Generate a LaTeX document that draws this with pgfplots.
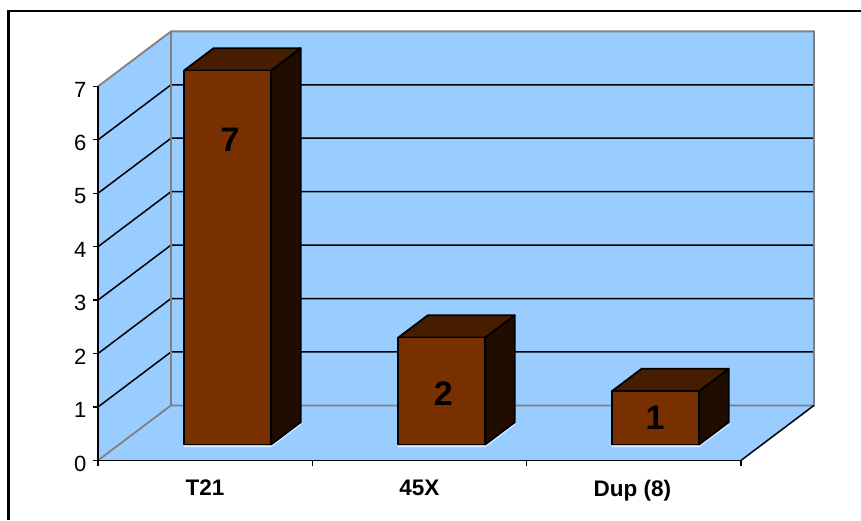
\documentclass[border=0pt]{standalone}
\usepackage{pgfplots}
\pgfplotsset{compat=1.18}
\usepackage{fontspec}
\setmainfont{Liberation Sans}
\definecolor{wall}{HTML}{99CCFF}
\definecolor{barfront}{HTML}{783000}
\definecolor{bartop}{HTML}{471D00}
\definecolor{barside}{HTML}{210D00}
\definecolor{edge}{HTML}{808080}

% One box of the column chart: x from #1 to #2, height #3
\newcommand{\barbox}[3]{%
  \addplot3[white!75!wall, line width=1pt] coordinates
    {(#1,0.29,-0.04) (#2,0.29,-0.04) (#2,0.695,-0.04)};
  \addplot3[draw=black, line width=1.8pt, fill=barside, line join=round] coordinates
    {(#2,0.29,0) (#2,0.695,0) (#2,0.695,#3) (#2,0.29,#3)} --cycle;
  \addplot3[draw=black, line width=1.8pt, fill=bartop, line join=round] coordinates
    {(#1,0.29,#3) (#2,0.29,#3) (#2,0.695,#3) (#1,0.695,#3)} --cycle;
  \addplot3[draw=black, line width=1.8pt, fill=barfront, line join=round] coordinates
    {(#1,0.29,0) (#2,0.29,0) (#2,0.29,#3) (#1,0.29,#3)} --cycle;
}

\begin{document}
\begin{tikzpicture}[x=1pt,y=1pt]
\path[use as bounding box] (0,0) rectangle (861,520);
% chart frame: only the top and left sides lie inside the page
\draw[black, line width=2.2pt] (861,509) -- (8.5,509) -- (8.5,0);
\begin{axis}[
  at={(98pt,59.6pt)}, anchor=origin,
  x={(214.33pt,0pt)}, y={(73pt,55pt)}, z={(0pt,53.43pt)},
  xmin=0, xmax=3, ymin=0, ymax=1, zmin=0, zmax=7,
  clip=false,
  axis x line*=bottom, axis z line*=left, axis y line=none,
  axis line style={black, line width=1.5pt, -},
  tick style={draw=none},
  xtick={0.5,1.5,2.5},
  xticklabels={T21,45X,Dup (8)},
  xticklabel style={font=\fontsize{22.5}{22.5}\selectfont\bfseries, yshift=-13pt, xshift=9.5pt},
  ztick={0,1,...,7},
  zticklabel style={font=\fontsize{22}{22}\selectfont, xshift=-4pt, yshift=3pt},
  /pgf/number format/assume math mode=true,
  tick align=outside,
  major tick length=5pt,
]
% walls and floor
\addplot3[draw=none, fill=wall] coordinates {(0,0,0) (0,1,0) (0,1,7) (0,0,7)} --cycle;
\addplot3[draw=none, fill=wall] coordinates {(0,1,0) (3,1,0) (3,1,7) (0,1,7)} --cycle;
\addplot3[draw=none, fill=wall] coordinates {(0,0,0) (3,0,0) (3,1,0) (0,1,0)} --cycle;
% gridlines on the two walls
\foreach \v in {1,...,6} {
  \edef\temp{\noexpand\addplot3[black, line width=1.5pt] coordinates {(0,0,\v) (0,1,\v) (3,1,\v)};}
  \temp
}
% wall outlines
\addplot3[edge, line width=1.8pt] coordinates {(0,0,7) (0,1,7) (3,1,7) (3,1,0) (0,1,0) (0,0,0)};
\addplot3[edge, line width=1.8pt] coordinates {(0,1,7) (0,1,0)};
\addplot3[black, line width=1.5pt] coordinates {(3,0,0) (3,1,0)};
\addplot3[black, line width=1.6pt] coordinates {(0,0,0) (3,0,0)};
\addplot3[black, line width=1.6pt] coordinates {(0,0,0) (0,0,7)};
% outward ticks, horizontal on the value axis and vertical on the category axis
\foreach \v in {0,...,7} {
  \edef\temp{\noexpand\addplot3[black, line width=1.3pt] coordinates {(-0.025,0,\v) (0,0,\v)};}
  \temp
}
\foreach \v in {0,...,3} {
  \edef\temp{\noexpand\addplot3[black, line width=1.3pt] coordinates {(\v,0,0) (\v,0,-0.11)};}
  \temp
}
% columns
\barbox{0.303}{0.709}{7}
\barbox{1.302}{1.708}{2}
\barbox{2.300}{2.706}{1}
% value labels
\node[font=\fontsize{34}{34}\selectfont\bfseries] at (axis cs:0.518,0.29,5.71) {7};
\node[font=\fontsize{34}{34}\selectfont\bfseries] at (axis cs:1.512,0.29,0.955) {2};
\node[font=\fontsize{34}{34}\selectfont\bfseries] at (axis cs:2.5,0.29,0.49) {1};
\end{axis}
\end{tikzpicture}
\end{document}
